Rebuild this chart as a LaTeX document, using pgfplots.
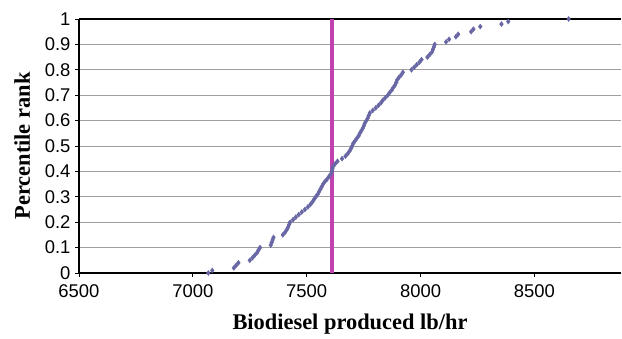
\documentclass[border=0pt]{standalone}
\usepackage{pgfplots}
\pgfplotsset{compat=1.18}
\usepackage{fontspec}
\setmainfont{Liberation Serif}
\newfontfamily\arial{Liberation Sans}
\definecolor{ptcol}{RGB}{104,102,164}
\definecolor{mag}{RGB}{192,66,176}
\begin{document}
\begin{tikzpicture}
\begin{axis}[
  name=ax,
  scale only axis,
  width=542bp, height=254bp,
  xmin=6500, xmax=8880, ymin=0, ymax=1,
  axis x line*=box, axis y line*=left,
  xtick={6500,7000,7500,8000,8500},
  ytick={0,0.1,...,1.0},
  xtick pos=bottom,
  tick align=outside,
  major tick length=4bp,
  tick style={black, line width=0.8pt},
  axis line style={black, line width=1.3pt},
  ymajorgrids, grid style={gray!75, line width=0.7pt},
  /pgf/number format/assume math mode=true,
  /pgf/number format/1000 sep={},
  yticklabel style={/pgf/number format/fixed, xshift=-1bp},
  xticklabel style={yshift=-4bp},
  ticklabel style={font=\arial\fontsize{18.5}{20}\selectfont},
  xlabel={\textbf{Biodiesel produced lb/hr}},
  ylabel={\textbf{Percentile rank}},
  label style={font=\fontsize{22.5}{24}\selectfont},
  xlabel style={yshift=-10bp},
  ylabel style={yshift=8bp},
  clip=false,
]
\addplot[mag, line width=3.5bp] coordinates {(7610,0) (7610,1)};
\addplot[only marks, mark=diamond*, mark size=2.5bp, color=ptcol] coordinates {
(7068,0.00) (7085,0.01) (7180,0.02) (7190,0.03) (7200,0.04) (7250,0.05) (7262,0.06) (7272,0.07) (7282,0.08) (7288,0.09)
(7295,0.10) (7342,0.11) (7346,0.12) (7350,0.13) (7354,0.14) (7395,0.15) (7405,0.16) (7412,0.17) (7418,0.18) (7422,0.19)
(7427,0.20) (7440,0.21) (7452,0.22) (7465,0.23) (7478,0.24) (7492,0.25) (7505,0.26) (7516,0.27) (7525,0.28) (7532,0.29)
(7540,0.30) (7548,0.31) (7554,0.32) (7560,0.33) (7566,0.34) (7572,0.35) (7580,0.36) (7590,0.37) (7598,0.38) (7606,0.39)
(7610,0.40) (7613,0.41) (7616,0.42) (7625,0.43) (7635,0.44) (7655,0.45) (7670,0.46) (7680,0.47) (7688,0.48) (7694,0.49)
(7700,0.50) (7704,0.51) (7712,0.52) (7720,0.53) (7728,0.54) (7733,0.55) (7740,0.56) (7746,0.57) (7751,0.58) (7755,0.59)
(7762,0.60) (7768,0.61) (7772,0.62) (7777,0.63) (7790,0.64) (7803,0.65) (7815,0.66) (7826,0.67) (7834,0.68) (7845,0.69)
(7856,0.70) (7864,0.71) (7873,0.72) (7880,0.73) (7888,0.74) (7893,0.75) (7897,0.76) (7905,0.77) (7915,0.78) (7922,0.79)
(7960,0.80) (7972,0.81) (7983,0.82) (7995,0.83) (8004,0.84) (8030,0.85) (8040,0.86) (8050,0.87) (8054,0.88) (8058,0.89)
(8062,0.90) (8112,0.91) (8125,0.92) (8155,0.93) (8165,0.94) (8222,0.95) (8232,0.96) (8262,0.97) (8355,0.98) (8385,0.99)
(8650,1.00)
};
\end{axis}
\useasboundingbox ([xshift=-79bp,yshift=-66bp]ax.south west) rectangle ([xshift=1bp,yshift=19bp]ax.north east);
\end{tikzpicture}
\end{document}
